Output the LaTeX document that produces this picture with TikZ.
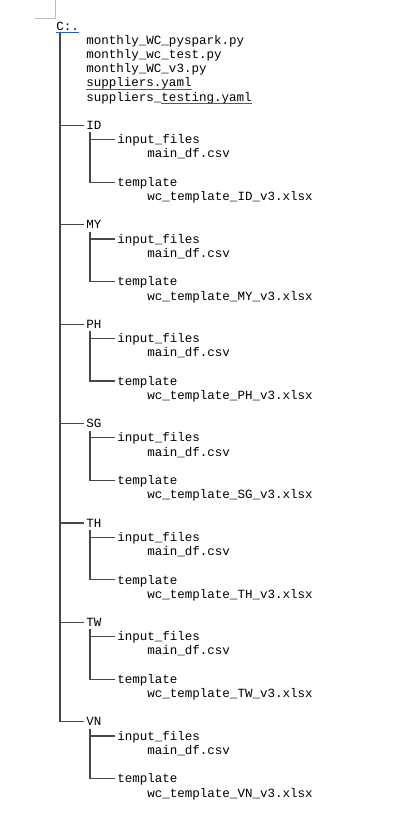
\documentclass[tikz,border=0pt]{standalone}
\usepackage{fontspec}
\setmonofont{Liberation Mono}
\usepackage{xcolor}
\usetikzlibrary{positioning}
\definecolor{treeline}{RGB}{72,72,72}
\definecolor{spell}{RGB}{40,92,210}
\definecolor{pagemark}{RGB}{190,190,190}

\begin{document}
\begin{tikzpicture}[
  x=0.75pt, y=-0.75pt,
  entry/.style={anchor=base west, inner sep=0pt, text=black,
                font=\ttfamily\fontsize{9.4}{11}\selectfont},
  branch/.style={draw=treeline, line width=0.9pt, shorten >=1.5pt},
  squiggle/.style={draw=spell, line width=0.8pt}
]
  \useasboundingbox (0,0) rectangle (420,822);
  % page corner mark
  \draw[pagemark, line width=0.7pt] (35,18) -- (55,18) -- (55,0);

  % root and its files
  \node[entry] (root) at (56,30) {C:.};
  \foreach \f [count=\i] in {monthly\_WC\_pyspark.py, monthly\_wc\_test.py,
      monthly\_WC\_v3.py, suppliers.yaml, suppliers\_testing.yaml}
    \node[entry] (file\i) at (86,{30+14.2*\i}) {\f};
  \draw[squiggle] ([yshift=-1.8pt]root.base west) -- ([yshift=-1.8pt]root.base east);
  \draw[squiggle] ([yshift=-1.8pt]file4.base west) -- ([yshift=-1.8pt]file4.base east);
  \draw[squiggle] ([xshift=56.4pt,yshift=-1.8pt]file5.base west) -- ([yshift=-1.8pt]file5.base east);

  % one folder per country
  \foreach \cc [count=\i from 0] in {ID,MY,PH,SG,TH,TW,VN} {
    \pgfmathsetmacro\ry{26+14.2*(7+7*\i)}
    \node[entry] (\cc) at (86,\ry+4) {\cc};
    \node[entry] (\cc-in) at (117,\ry+18.2) {input\_files};
    \node[entry] (\cc-csv) at (147,\ry+32.4) {main\_df.csv};
    \node[entry] (\cc-tpl) at (117,\ry+61) {template};
    \node[entry] (\cc-xlsx) at (147,\ry+75.2) {wc\_template\_\cc\_v3.xlsx};
    \coordinate (\cc-j) at (60,\ry);
    \coordinate (\cc-sub) at (90,\ry+7);
    \coordinate (\cc-i) at (90,\ry+14.2);
    \coordinate (\cc-t) at (90,\ry+56.8);
    \draw[branch] (\cc-j) -- (\cc-j -| \cc.west);
    \draw[branch] (\cc-i) -- (\cc-i -| \cc-in.west);
    \draw[branch] (\cc-sub) -- (\cc-t) -- (\cc-t -| \cc-tpl.west);
  }
  \coordinate (trunk) at (60,33);
  \draw[branch, shorten >=0pt] (trunk) -- (VN-j);
\end{tikzpicture}
\end{document}
